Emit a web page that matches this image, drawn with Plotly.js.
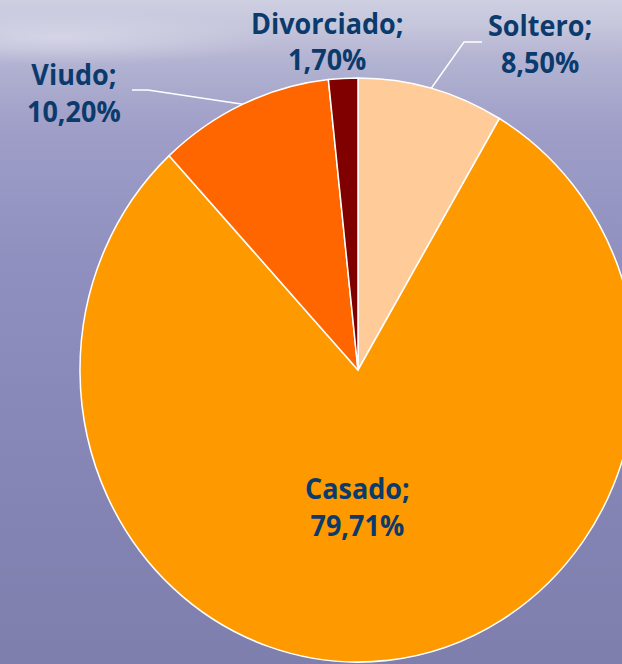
<!DOCTYPE html>
<html>
<head>
<meta charset="utf-8">
<script src="https://cdn.plot.ly/plotly-3.0.1.min.js"></script>
<style>
  html, body { margin: 0; padding: 0; width: 622px; height: 664px; overflow: hidden; }
  body {
    background:
      radial-gradient(ellipse 220px 28px at 60px 38px, rgba(230,230,242,0.55), rgba(230,230,242,0)),
      linear-gradient(to bottom, #cfcfe2 0px, #c6c6dc 25px, #b3b3d2 60px, #9e9ec8 130px, #9090c0 260px, #8787b8 420px, #7f7fae 664px);
  }
  #chart { width: 700px; height: 632px; transform: scaleY(1.0506); transform-origin: 0 0; }
</style>
</head>
<body>
<div id="chart"></div>
<script>
// ---- data ----
const labels = ['Soltero', 'Casado', 'Viudo', 'Divorciado'];
const values = [8.50, 79.71, 10.20, 1.70];
const colors = ['#FFCC99', '#FF9900', '#FF6600', '#800000'];

// ---- geometry (layout only) ----
const W = 700, H = 632, SY = 664 / 632;
const CX = 358, CY = 370, RX = 278, RY = 292;   // reference pixels
function paper(x, y) { return { x: x / W, y: 1 - (y / SY) / H }; }

const fmt = v => v.toFixed(2).replace('.', ',') + '%';
const textColor = '#0b3a6c';
const fontFam = '"Open Sans", "DejaVu Sans", sans-serif';
const fsize = 27;

// label block positions (reference pixel centres)
const labelPos = {
  'Soltero':    { at: [540, 43], leader: [[464, 42], [482, 42]] },
  'Casado':     { at: [357, 506], leader: null },
  'Viudo':      { at: [74, 92], leader: [[148, 90], [132, 90]] },
  'Divorciado': { at: [327, 41], leader: null }
};

const total = values.reduce((a, b) => a + b, 0);
const annotations = [];
const shapes = [];
let cum = 0;
labels.forEach((lab, i) => {
  const mid = (cum + values[i] / 2) / total * 2 * Math.PI;
  cum += values[i];
  const p = labelPos[lab];
  const a = paper(p.at[0], p.at[1]);
  annotations.push({ xref: 'paper', yref: 'paper', x: a.x, y: a.y, xanchor: 'center', yanchor: 'middle',
    align: 'center',
    text: '<b>' + lab + ';<br>' + fmt(values[i]) + '</b>', showarrow: false,
    font: { family: fontFam, size: fsize, color: textColor } });
  if (p.leader) {
    const sx = CX + RX * Math.sin(mid), sy = CY - RY * Math.cos(mid);
    const pts = [[sx, sy]].concat(p.leader).map(q => paper(q[0], q[1]));
    const path = 'M ' + pts.map(q => q.x + ',' + q.y).join(' L ');
    shapes.push({ type: 'path', xref: 'paper', yref: 'paper', path: path,
      line: { color: '#ffffff', width: 1.5 } });
  }
});

const cyU = CY / SY, rU = RX;
const trace = {
  type: 'pie',
  labels: labels,
  values: values,
  sort: false,
  direction: 'clockwise',
  rotation: 0,
  textinfo: 'none',
  textposition: 'none',
  hoverinfo: 'none',
  marker: { colors: colors, line: { color: '#ffffff', width: 1.5 } },
  domain: {
    x: [(CX - rU) / W, (CX + rU) / W],
    y: [1 - (cyU + rU) / H, 1 - (cyU - rU) / H]
  },
  showlegend: false
};

const layout = {
  width: W, height: H,
  margin: { l: 0, r: 0, t: 0, b: 0, pad: 0 },
  paper_bgcolor: 'rgba(0,0,0,0)',
  plot_bgcolor: 'rgba(0,0,0,0)',
  showlegend: false,
  annotations: annotations,
  shapes: shapes
};

Plotly.newPlot('chart', [trace], layout, { staticPlot: true, displayModeBar: false });
</script>
</body>
</html>
